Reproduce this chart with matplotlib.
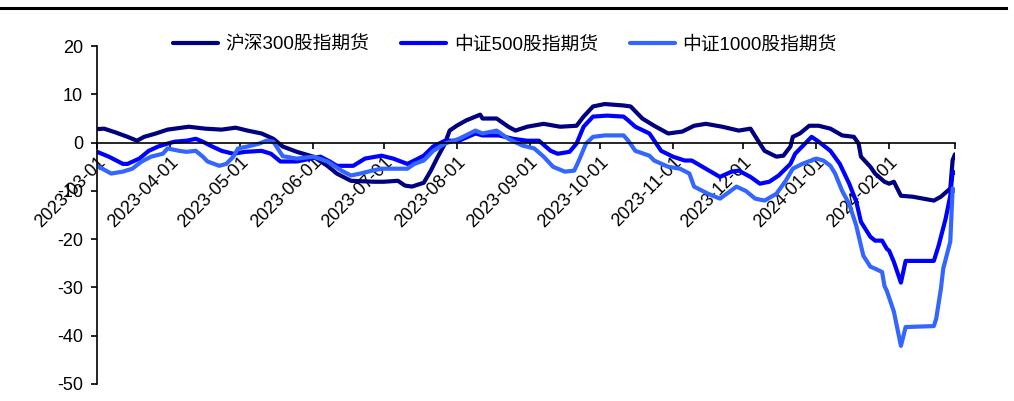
import matplotlib
matplotlib.use("Agg")
import matplotlib.pyplot as plt
from matplotlib.lines import Line2D
import pandas as pd

plt.rcParams['font.family'] = ['Liberation Sans', 'Noto Sans CJK SC']
plt.rcParams['axes.unicode_minus'] = False

NAMES = ["沪深300股指期货", "中证500股指期货", "中证1000股指期货"]
COLORS = ["#000080", "#0000FF", "#3366FF"]

# 沪深300
hs300_dates = [
    "2023-03-01", "2023-03-04", "2023-03-09", "2023-03-14", "2023-03-18", "2023-03-21",
    "2023-03-26", "2023-03-31", "2023-04-09", "2023-04-16", "2023-04-23", "2023-04-29",
    "2023-05-04", "2023-05-10", "2023-05-15", "2023-05-19", "2023-05-25", "2023-06-01",
    "2023-06-07", "2023-06-11", "2023-06-17", "2023-06-27", "2023-07-01", "2023-07-07",
    "2023-07-10", "2023-07-13", "2023-07-18", "2023-07-21", "2023-07-24", "2023-07-27",
    "2023-07-29", "2023-08-01", "2023-08-05", "2023-08-09", "2023-08-11", "2023-08-12",
    "2023-08-18", "2023-08-23", "2023-08-26", "2023-08-31", "2023-09-07", "2023-09-14",
    "2023-09-21", "2023-09-24", "2023-09-28", "2023-10-03", "2023-10-11", "2023-10-14",
    "2023-10-19", "2023-10-24", "2023-10-30", "2023-11-05", "2023-11-10", "2023-11-15",
    "2023-11-22", "2023-11-29", "2023-12-04", "2023-12-08", "2023-12-10", "2023-12-15",
    "2023-12-18", "2023-12-21", "2023-12-22", "2023-12-25", "2023-12-29", "2024-01-02",
    "2024-01-07", "2024-01-12", "2024-01-17", "2024-01-19", "2024-01-20", "2024-01-24",
    "2024-01-26", "2024-01-30", "2024-02-01", "2024-02-03", "2024-02-06", "2024-02-11",
    "2024-02-20", "2024-02-23", "2024-02-27", "2024-02-28", "2024-02-29",
]
hs300 = [
    2.8, 2.9, 2.1, 1.2, 0.4, 1.2,
    1.9, 2.7, 3.3, 2.9, 2.7, 3.1,
    2.5, 1.9, 0.8, -0.8, -1.9, -2.9,
    -4.8, -6.4, -7.9, -8.1, -8.1, -7.9,
    -8.9, -9.1, -8.3, -5.8, -2.9, -0.2,
    2.5, 3.5, 4.6, 5.4, 5.8, 5.0,
    5.0, 3.3, 2.5, 3.3, 3.9, 3.3,
    3.5, 5.4, 7.5, 8.0, 7.7, 7.5,
    5.0, 3.5, 1.9, 2.3, 3.5, 3.9,
    3.3, 2.5, 2.9, -0.2, -1.7, -2.9,
    -2.7, -0.8, 1.2, 1.9, 3.5, 3.5,
    2.9, 1.5, 1.2, -0.2, -2.9, -5.0,
    -6.4, -8.1, -8.5, -8.1, -11.0, -11.2,
    -12.0, -11.2, -9.5, -3.6, -2.4,
]

# 中证500
zz500_dates = [
    "2023-03-01", "2023-03-06", "2023-03-12", "2023-03-14", "2023-03-19", "2023-03-23",
    "2023-03-27", "2023-03-31", "2023-04-03", "2023-04-08", "2023-04-12", "2023-04-15",
    "2023-04-19", "2023-04-23", "2023-04-28", "2023-05-03", "2023-05-10", "2023-05-14",
    "2023-05-18", "2023-05-25", "2023-05-31", "2023-06-04", "2023-06-08", "2023-06-11",
    "2023-06-18", "2023-06-23", "2023-06-30", "2023-07-05", "2023-07-11", "2023-07-14",
    "2023-07-18", "2023-07-22", "2023-07-27", "2023-08-02", "2023-08-09", "2023-08-12",
    "2023-08-19", "2023-08-25", "2023-08-31", "2023-09-05", "2023-09-10", "2023-09-13",
    "2023-09-18", "2023-09-21", "2023-09-24", "2023-09-28", "2023-10-04", "2023-10-11",
    "2023-10-13", "2023-10-16", "2023-10-22", "2023-10-27", "2023-11-01", "2023-11-06",
    "2023-11-09", "2023-11-15", "2023-11-21", "2023-11-26", "2023-11-29", "2023-12-04",
    "2023-12-08", "2023-12-12", "2023-12-16", "2023-12-21", "2023-12-23", "2023-12-26",
    "2023-12-30", "2024-01-02", "2024-01-07", "2024-01-11", "2024-01-15", "2024-01-18",
    "2024-01-20", "2024-01-24", "2024-01-26", "2024-01-29", "2024-01-31", "2024-02-01",
    "2024-02-03", "2024-02-06", "2024-02-08", "2024-02-20", "2024-02-22", "2024-02-25",
    "2024-02-27", "2024-02-28", "2024-02-29",
]
zz500 = [
    -1.9, -2.9, -4.4, -4.4, -3.3, -1.7,
    -0.8, -0.2, 0.2, 0.4, 0.8, 0.2,
    -0.8, -1.7, -2.3, -1.9, -1.7, -2.3,
    -3.9, -3.9, -3.3, -2.9, -3.9, -4.8,
    -4.8, -3.3, -2.7, -3.3, -4.4, -3.7,
    -2.7, -0.8, 0.4, 0.4, 1.9, 1.5,
    1.5, 0.8, 0.4, 0.4, -1.7, -2.3,
    -1.9, -0.2, 3.3, 5.4, 5.6, 5.4,
    4.6, 3.3, 1.9, -1.7, -2.9, -3.7,
    -3.7, -5.4, -7.1, -6.0, -5.8, -7.1,
    -8.5, -8.1, -6.8, -4.4, -2.3, -0.8,
    1.2, 0.2, -1.7, -4.4, -8.5, -12.2,
    -16.4, -19.5, -20.3, -20.3, -22.0, -22.4,
    -24.7, -29.0, -24.5, -24.5, -21.4, -15.8,
    -11.0, -6.0, -6.2,
]

# 中证1000
zz1000_dates = [
    "2023-03-01", "2023-03-07", "2023-03-12", "2023-03-16", "2023-03-20", "2023-03-24",
    "2023-03-29", "2023-03-31", "2023-04-05", "2023-04-08", "2023-04-12", "2023-04-15",
    "2023-04-17", "2023-04-22", "2023-04-25", "2023-04-28", "2023-04-30", "2023-05-04",
    "2023-05-09", "2023-05-12", "2023-05-15", "2023-05-19", "2023-05-25", "2023-06-01",
    "2023-06-07", "2023-06-13", "2023-06-17", "2023-06-21", "2023-06-26", "2023-06-30",
    "2023-07-11", "2023-07-14", "2023-07-18", "2023-07-22", "2023-07-27", "2023-08-02",
    "2023-08-09", "2023-08-12", "2023-08-18", "2023-08-23", "2023-08-29", "2023-09-03",
    "2023-09-07", "2023-09-11", "2023-09-16", "2023-09-20", "2023-09-22", "2023-09-25",
    "2023-09-28", "2023-10-03", "2023-10-11", "2023-10-13", "2023-10-16", "2023-10-22",
    "2023-10-24", "2023-10-30", "2023-11-04", "2023-11-08", "2023-11-10", "2023-11-16",
    "2023-11-21", "2023-11-25", "2023-11-28", "2023-12-02", "2023-12-06", "2023-12-10",
    "2023-12-15", "2023-12-19", "2023-12-22", "2023-12-26", "2024-01-01", "2024-01-04",
    "2024-01-07", "2024-01-09", "2024-01-12", "2024-01-15", "2024-01-18", "2024-01-21",
    "2024-01-24", "2024-01-26", "2024-01-29", "2024-01-30", "2024-01-31", "2024-02-03",
    "2024-02-06", "2024-02-08", "2024-02-20", "2024-02-21", "2024-02-23", "2024-02-24",
    "2024-02-27", "2024-02-28", "2024-02-29",
]
zz1000 = [
    -4.8, -6.4, -6.0, -5.4, -3.9, -2.9,
    -2.3, -1.2, -1.7, -1.9, -1.7, -2.9,
    -3.9, -4.8, -4.4, -2.9, -1.2, -0.8,
    -0.2, 0.4, 0.2, -2.8, -3.3, -2.9,
    -3.9, -5.8, -6.8, -6.4, -5.8, -5.4,
    -5.4, -4.4, -3.7, -1.7, -0.2, 0.8,
    2.5, 1.9, 2.5, 0.8, -0.6, -1.2,
    -2.9, -5.0, -6.0, -5.8, -3.7, -0.2,
    1.2, 1.5, 1.5, 0.4, -1.7, -2.7,
    -3.7, -5.0, -5.4, -6.4, -9.1, -10.6,
    -11.6, -10.2, -9.1, -10.0, -11.6, -12.0,
    -10.6, -7.9, -5.4, -4.4, -3.3, -3.7,
    -4.8, -6.4, -10.0, -12.7, -17.2, -23.4,
    -25.7, -26.1, -26.8, -29.7, -30.7, -35.0,
    -42.1, -38.2, -38.0, -36.5, -30.3, -26.1,
    -20.5, -9.5, -10.0,
]

YTICKS = [-50, -40, -30, -20, -10, 0, 10, 20]

fig, ax = plt.subplots(figsize=(10.14, 4.01), dpi=100)
fig.subplots_adjust(left=0.0957, right=0.9418, top=0.885, bottom=0.0424)

series = [(hs300_dates, hs300), (zz500_dates, zz500), (zz1000_dates, zz1000)]
for (d, v), name, color in zip(series, NAMES, COLORS):
    ax.plot(pd.to_datetime(d), v, color=color, linewidth=3.0, label=name,
            solid_joinstyle='round', solid_capstyle='round')

ax.set_ylim(-50, 20)
ax.set_yticks(YTICKS)
ax.set_xlim(pd.Timestamp("2023-03-01"), pd.Timestamp("2024-02-29"))

months = list(pd.date_range("2023-03-01", "2024-02-01", freq="MS")) + [pd.Timestamp("2024-02-29")]
ax.set_xticks(months)
ax.set_xticklabels([m.strftime("%Y-%m-%d") for m in months[:-1]] + [""])

ax.spines['top'].set_visible(False)
ax.spines['right'].set_visible(False)
ax.spines['bottom'].set_position(('data', 0))
ax.spines['left'].set_linewidth(1.2)
ax.spines['bottom'].set_linewidth(1.2)

ax.tick_params(axis='y', direction='out', length=4, width=1.2, labelsize=13, pad=6)
ax.tick_params(axis='x', direction='out', length=4, width=1.2, labelsize=13, pad=4)
for lbl in ax.get_xticklabels():
    lbl.set_rotation(45)
    lbl.set_ha('right')
    lbl.set_va('top')
    lbl.set_rotation_mode('anchor')

fig.legend(loc='center', bbox_to_anchor=(0.498, 0.888), ncol=3, frameon=False,
           fontsize=13.5, handlelength=2.4, handletextpad=0.4, columnspacing=1.7)

# rule across the top
fig.add_artist(Line2D([0.0, 0.992], [0.980, 0.980], color='black', linewidth=2.2,
                      transform=fig.transFigure))

fig.savefig("out.png", dpi=100)
